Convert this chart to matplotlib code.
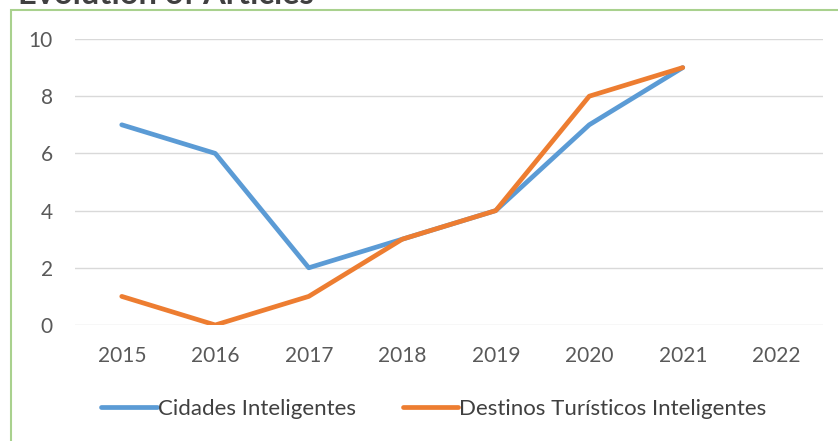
import matplotlib.pyplot as plt
import numpy as np
from matplotlib.patches import Rectangle

plt.rcParams['font.family'] = ['Lato', 'DejaVu Sans']

years = ['2015', '2016', '2017', '2018', '2019', '2020', '2021', '2022']
cidades = [7, 6, 2, 3, 4, 7, 9, np.nan]
destinos = [1, 0, 1, 3, 4, 8, 9, np.nan]

fig = plt.figure(figsize=(8.38, 4.41), dpi=100)
ax = fig.add_axes([75 / 838, 1 - 325 / 441, 748 / 838, 286 / 441])

x = np.arange(len(years))
ax.plot(x, cidades, color='#5B9BD5', lw=3.4, solid_capstyle='round', solid_joinstyle='round',
        label='Cidades Inteligentes')
ax.plot(x, destinos, color='#ED7D31', lw=3.4, solid_capstyle='round', solid_joinstyle='round',
        label='Destinos Turísticos Inteligentes')

ax.set_xlim(-0.5, 7.5)
ax.set_ylim(0, 10)
ax.set_yticks(range(0, 11, 2))
ax.set_xticks(x)
ax.set_xticklabels(years)
ax.grid(axis='y', color='#D9D9D9', lw=1)
ax.set_axisbelow(True)
for s in ax.spines.values():
    s.set_visible(False)
ax.tick_params(length=0, labelsize=15, colors='#595959')
ax.tick_params(axis='x', pad=15)
ax.tick_params(axis='y', pad=16)

leg = fig.legend(loc='center', bbox_to_anchor=(434 / 838, 1 - 409 / 441), ncol=2, frameon=False,
                 fontsize=16, handlelength=2.5, handletextpad=0.05, columnspacing=2.1)
for t in leg.get_texts():
    t.set_color('#404040')

# green frame of the chart box (left and top edges visible)
fig.patches.append(Rectangle((11 / 838, -0.1), 1.2, 1 - 10 / 441 + 0.1, transform=fig.transFigure,
                             fill=False, edgecolor='#A9D18E', lw=1.5))

fig.text(18 / 838, 1 - 4 / 441, 'Evolution of Articles', fontsize=23.5, fontweight='bold',
         color='#404040', va='baseline', ha='left')

fig.savefig('out.png', dpi=100)
